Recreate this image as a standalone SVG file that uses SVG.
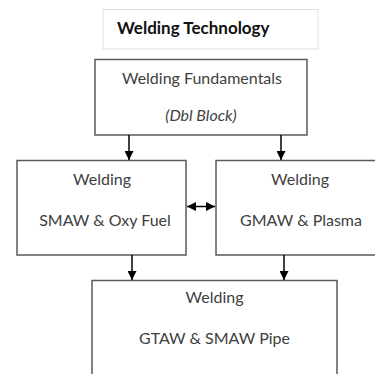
<svg xmlns="http://www.w3.org/2000/svg" width="375" height="374" viewBox="0 0 375 374">
<style>
.box{fill:#fff;stroke:#5a5a5a;stroke-width:1.5}
.t{font-family:Lato,"Open Sans",sans-serif;font-size:16px;fill:#404040;text-anchor:middle}
.c{stroke:#000;stroke-width:1.5;fill:none}
</style>
<defs>
<marker id="ah" viewBox="0 0 10 10" refX="10" refY="5" markerWidth="9" markerHeight="9" markerUnits="userSpaceOnUse" orient="auto-start-reverse">
<path d="M0,0 L10,5 L0,10 z" fill="#000"/>
</marker>
</defs>
<rect width="375" height="374" fill="#fff"/>
<g id="title">
<rect x="103" y="9.5" width="215" height="39.5" fill="#fff" stroke="#e0e0e0" stroke-width="1"/>
<text x="117" y="34" font-family="Lato,'Open Sans',sans-serif" font-size="17" font-weight="bold" fill="#111">Welding Technology</text>
</g>
<g id="fundamentals">
<rect class="box" x="95" y="59.5" width="212" height="75.5"/>
<text class="t" x="202" y="84">Welding Fundamentals</text>
<text class="t" x="201" y="121" font-size="9" font-style="italic" fill="#666">(Dbl Block)</text>
</g>
<g id="smaw">
<rect class="box" x="17" y="160.5" width="169" height="94.5"/>
<text class="t" x="102" y="185">Welding</text>
<text class="t" x="105" y="226">SMAW &amp; Oxy Fuel</text>
</g>
<g id="gmaw">
<rect class="box" x="216" y="160.5" width="170" height="94.5"/>
<text class="t" x="300" y="185">Welding</text>
<text class="t" x="301" y="226">GMAW &amp; Plasma</text>
</g>
<g id="gtaw">
<rect class="box" x="92" y="280.5" width="245" height="100"/>
<text class="t" x="214.5" y="303">Welding</text>
<text class="t" x="214.5" y="344">GTAW &amp; SMAW Pipe</text>
</g>
<g id="connectors">
<line class="c" x1="129" y1="135" x2="129" y2="160" marker-end="url(#ah)"/>
<line class="c" x1="281" y1="135" x2="281" y2="160" marker-end="url(#ah)"/>
<line class="c" x1="132" y1="255" x2="132" y2="280" marker-end="url(#ah)"/>
<line class="c" x1="284" y1="255" x2="284" y2="280" marker-end="url(#ah)"/>
<line class="c" x1="187" y1="206.5" x2="215" y2="206.5" marker-start="url(#ah)" marker-end="url(#ah)"/>
</g>
</svg>
